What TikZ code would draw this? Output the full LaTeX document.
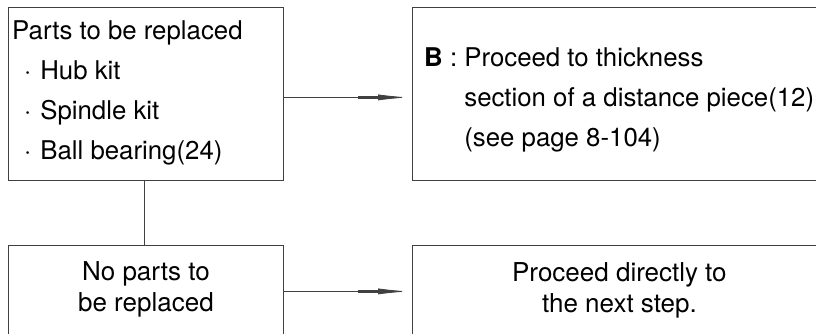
\documentclass[tikz,border=0pt]{standalone}
\usepackage{fontspec}
\setmainfont{TeX Gyre Heros}
\usetikzlibrary{arrows.meta,positioning}

\begin{document}
\begin{tikzpicture}[
  box/.style={draw=black!75,line width=0.8pt,anchor=north west,inner sep=0pt},
  txt/.style={inner sep=0pt,font=\fontsize{25.8}{40}\selectfont},
  txtlow/.style={inner sep=0pt,align=center,font=\fontsize{26}{31}\selectfont},
  >={Rectangle[length=20pt,width=2.2pt,sep=0pt] Latex[length=30pt,width=6pt]},
  x=1pt, y=-1pt]
  \useasboundingbox (0,0) rectangle (816,334);
  \clip (0,0) rectangle (816,334);
  % boxes
  \node[box,minimum width=275pt,minimum height=173pt] (parts)   at (8,7)   {};
  \node[box,minimum width=414pt,minimum height=173pt] (procB)   at (412,7) {};
  \node[box,minimum width=275pt,minimum height=92pt]  (noparts) at (8,245) {};
  \node[box,minimum width=414pt,minimum height=92pt]  (direct)  at (412,245) {};
  % texts
  \node[txt,align=left,anchor=north west,below right=13pt and 4pt of parts.north west] (partsT)
    {Parts to be replaced\\
     \hspace*{12pt}·\hspace*{9pt}Hub kit\\
     \hspace*{12pt}·\hspace*{9pt}Spindle kit\\
     \hspace*{12pt}·\hspace*{9pt}Ball bearing(24)};
  \node[txt,align=left,anchor=north west,below right=40pt and 12pt of procB.north west] (procBT)
    {\textbf{B} : Proceed to thickness\\
     \hphantom{\textbf{B} : }section of a distance piece(12)\\
     \hphantom{\textbf{B} : }(see page 8-104)};
  \node[txtlow,below=16pt of noparts.north] (nopartsT) {No parts to\\be replaced};
  \node[txtlow,below=17pt of direct.north] (directT) {Proceed directly to\\the next step.};
  % connectors
  \draw[black!75,line width=0.8pt,->,shorten >=4pt] ([yshift=-3.5pt]parts.east) -- ([yshift=-3.5pt]procB.west);
  \draw[black!75,line width=0.8pt,->,shorten >=4pt] (noparts.east) -- (direct.west);
  \draw[black!75,line width=0.8pt] ([xshift=-2pt]parts.south) -- ([xshift=-2pt]noparts.north);
\end{tikzpicture}
\end{document}
